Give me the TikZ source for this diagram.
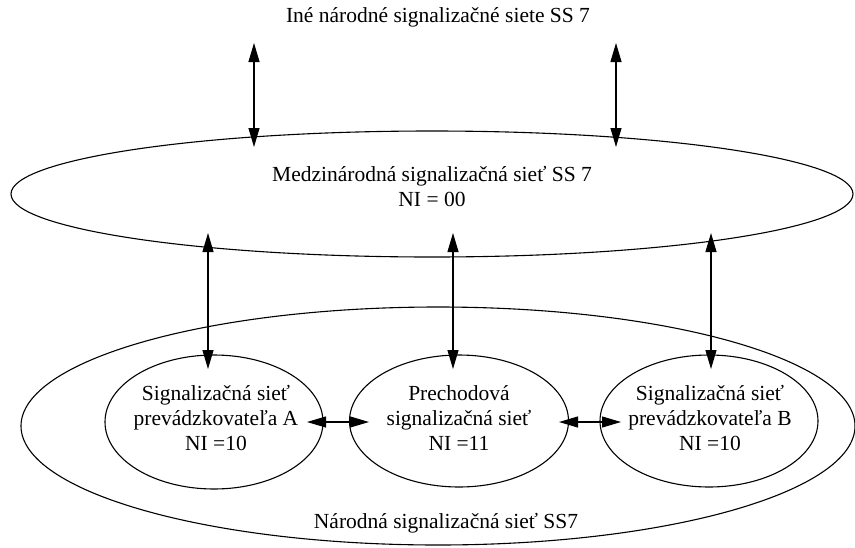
\documentclass[tikz,border=0pt]{standalone}
\usepackage{fontspec}
\setmainfont{Liberation Serif}
\usetikzlibrary{shapes.geometric,arrows.meta}
\begin{document}
\begin{tikzpicture}[x=1pt,y=-1pt,
  net/.style={draw, line width=1.1pt, ellipse, inner sep=0pt},
  lbl/.style={align=center, font=\fontsize{21.5}{25}\selectfont, inner sep=0pt},
  link/.style={line width=1.1pt, {Triangle[length=19pt,width=11pt]}-{Triangle[length=19pt,width=11pt]}}]
\useasboundingbox (0,0) rectangle (855,547);
% ellipses
\node[net, minimum width=842pt, minimum height=126pt] (intl) at (432,194) {};
\node[net, minimum width=834pt, minimum height=238pt] (natl) at (438,426) {};
\node[net, minimum width=218pt, minimum height=134pt] (opA) at (214,422) {};
\node[net, minimum width=219pt, minimum height=132pt] (tran) at (459,421) {};
\node[net, minimum width=218pt, minimum height=132pt] (opB) at (709,421) {};
% labels
\node[lbl] (other) at (438,17) {Iné národné signalizačné siete SS 7};
\node[lbl] (intlT) at (432,187) {Medzinárodná signalizačná sieť SS 7\\NI = 00};
\node[lbl] (natlT) at (446,523) {Národná signalizačná sieť SS7};
\node[lbl] (opAT) at (216,418) {Signalizačná sieť\\prevádzkovateľa A\\NI =10};
\node[lbl] (tranT) at (459,418) {Prechodová\\signalizačná sieť\\NI =11};
\node[lbl] (opBT) at (710,418) {Signalizačná sieť\\prevádzkovateľa B\\NI =10};
% connector end points
\coordinate (u1) at (254,43);  \coordinate (l1) at (254,147);
\coordinate (u2) at (616,43);  \coordinate (l2) at (616,147);
\coordinate (a1) at (208,233); \coordinate (b1) at (208,369);
\coordinate (a2) at (453,233); \coordinate (b2) at (453,369);
\coordinate (a3) at (711,233); \coordinate (b3) at (711,369);
\coordinate (h1) at (307,422); \coordinate (h2) at (369,422);
\coordinate (h3) at (559,422); \coordinate (h4) at (621,422);
% connectors
\draw[link] (u1) -- (l1);
\draw[link] (u2) -- (l2);
\draw[link] (a1) -- (b1);
\draw[link] (a2) -- (b2);
\draw[link] (a3) -- (b3);
\draw[link] (h1) -- (h2);
\draw[link] (h3) -- (h4);
\end{tikzpicture}
\end{document}
